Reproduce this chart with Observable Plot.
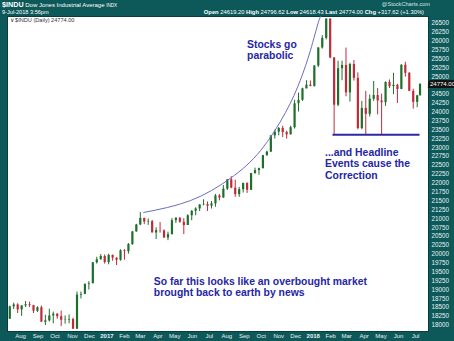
<!DOCTYPE html>
<html><head><meta charset="utf-8">
<script src="https://cdn.jsdelivr.net/npm/d3@7"></script>
<script src="https://cdn.jsdelivr.net/npm/@observablehq/plot@0.6"></script>
<style>
html,body{margin:0;padding:0;background:#0d5859;overflow:hidden}
#wrap{position:relative;width:454px;height:341px;font-family:'Liberation Sans',Arial,sans-serif;color:#fff}
#wrap svg{position:absolute;left:0;top:0}
.h{position:absolute;white-space:nowrap;line-height:1}
</style>
</head><body>
<div id="wrap">
  <div class="h" style="left:2px;top:1px;font-size:6px"><b style="font-size:7.2px">$INDU</b> Dow Jones Industrial Average <span style="font-size:4.6px">INDX</span></div>
  <div class="h" style="left:2px;top:9.5px;font-size:5.6px">9-Jul-2018 3:56pm</div>
  <div class="h" style="right:24px;top:1.5px;font-size:5.6px;color:#d8e6e6">@StockCharts.com</div>
  <div class="h" style="right:30px;top:9.5px;font-size:5.8px"><b>Open</b> 24619.20 <b>High</b> 24796.62 <b>Low</b> 24618.43 <b>Last</b> 24774.00 <b>Chg</b> +317.62 (+1.30%)</div>
</div>
<script>
// weekly bars (mid-week date), Dow Jones Industrial Average
const dates = ["2016-07-13","2016-07-20","2016-07-27","2016-08-03","2016-08-10","2016-08-17","2016-08-24","2016-08-31","2016-09-07","2016-09-14","2016-09-21","2016-09-28","2016-10-05","2016-10-12","2016-10-19","2016-10-26","2016-11-02","2016-11-09","2016-11-16","2016-11-23","2016-11-30","2016-12-07","2016-12-14","2016-12-21","2016-12-28",
"2017-01-04","2017-01-11","2017-01-18","2017-01-25","2017-02-01","2017-02-08","2017-02-15","2017-02-22","2017-03-01","2017-03-08","2017-03-15","2017-03-22","2017-03-29","2017-04-05","2017-04-12","2017-04-19","2017-04-26","2017-05-03","2017-05-10","2017-05-17","2017-05-24","2017-05-31","2017-06-07","2017-06-14","2017-06-21","2017-06-28","2017-07-05","2017-07-12","2017-07-19","2017-07-26","2017-08-02","2017-08-09","2017-08-16","2017-08-23","2017-08-30","2017-09-06","2017-09-13","2017-09-20","2017-09-27","2017-10-04","2017-10-11","2017-10-18","2017-10-25","2017-11-01","2017-11-08","2017-11-15","2017-11-22","2017-11-29","2017-12-06","2017-12-13","2017-12-20","2017-12-27",
"2018-01-03","2018-01-10","2018-01-17","2018-01-24","2018-01-31","2018-02-07","2018-02-14","2018-02-21","2018-02-28","2018-03-07","2018-03-14","2018-03-21","2018-03-28","2018-04-04","2018-04-11","2018-04-18","2018-04-25","2018-05-02","2018-05-09","2018-05-16","2018-05-23","2018-05-30","2018-06-06","2018-06-13","2018-06-20","2018-06-27","2018-07-04","2018-07-09"];
const closes = [18516,18570,18432,18543,18576,18552,18395,18492,18085,18123,18261,18308,18240,18138,18145,18161,17888,18847,18868,19152,19171,19757,19843,19934,19763,
19964,19886,19827,20094,20071,20269,20624,20822,21005,20903,20914,20596,20663,20656,20453,20548,20941,21007,20897,20805,21080,21206,21272,21384,21395,21350,21414,21638,21580,21830,22093,21858,21675,21814,21988,21798,22268,22350,22405,22774,22872,23329,23434,23539,23422,23358,23558,24232,24329,24652,24754,24719,
25296,25803,26072,26617,25521,24191,25219,25310,24539,25336,24947,23533,24103,23933,24360,24463,24311,24263,24831,24715,24753,24635,25317,25090,24581,24271,24456,24774];
const highs = [18537,18622,18605,18550,18668,18650,18560,18520,18540,18280,18450,18370,18330,18400,18260,18290,18200,18935,18935,19155,19225,19760,19912,19987,19980,
19999,19974,19900,20125,20125,20298,20640,20840,21169,21010,20990,20950,20740,20890,20680,20620,21000,21030,21030,21000,21110,21225,21305,21390,21530,21470,21480,21680,21680,21930,22100,22180,22080,21880,22000,22010,22270,22420,22420,22780,22900,23330,23490,23560,23600,23460,23600,24330,24530,24670,24880,24870,
25300,25810,26150,26617,26620,25530,25430,25430,25800,25370,25450,25100,24300,24580,24480,24860,24660,24500,24850,24900,25090,24780,25330,25400,25110,24640,24470,24796];
const lows = [18160,18440,18330,18250,18500,18500,18330,18360,18080,17990,18090,18040,18170,17960,18030,18040,17880,17880,18740,18860,18990,19160,19720,19830,19720,
19700,19800,19680,19800,19830,20000,20250,20620,20800,20830,20810,20600,20410,20590,20450,20380,20540,20860,20870,20550,20810,20940,21080,21200,21360,21200,21270,21320,21500,21570,21790,21840,21600,21600,21720,21710,21790,22250,22220,22400,22750,22860,23240,23330,23280,23240,23350,23520,24000,24300,24650,24710,
24700,25250,25770,26030,25500,23360,24150,24880,24430,24280,24870,23500,23500,23340,23860,24300,23920,23340,24160,24660,24490,24240,24630,24980,24580,24080,24120,24450];
const firstOpen = 18170;

const xTickLabels = ["Aug","Sep","Oct","Nov","Dec","2017","Feb","Mar","Apr","May","Jun","Jul","Aug","Sep","Oct","Nov","Dec","2018","Feb","Mar","Apr","May","Jun","Jul"];

// hand-drawn "parabolic" curve
const curveDates = ["2017-03-07","2017-05-29","2017-08-07","2017-09-30","2017-11-13","2017-12-09","2017-12-27","2018-01-10","2018-01-16"];
const curveValues = [21172,21509,22128,22917,23986,24887,25731,26519,26720];

// support line
const supportLevel = 23360;
const supportFrom = "2018-02-05", supportTo = "2018-07-09";

const notes = [
  {date:"2017-09-06", value:26032, text:"Stocks go\nparabolic"},
  {date:"2018-01-22", value:22993, text:"...and Headline\nEvents cause the\nCorrection"},
  {date:"2017-03-25", value:19370, text:"So far this looks like an overbought market\nbrought back to earth by news"}
];

const rows = dates.map((d,i)=>({date:new Date(d), open: i===0?firstOpen:closes[i-1], high:highs[i], low:lows[i], close:closes[i]}));
const green = "#1f6e2b", red = "#c22a3a";
const col = d => d.close >= d.open ? green : red;

const monthTicks = d3.utcMonth.range(new Date("2016-08-01"), new Date("2018-07-02"));
const labelOf = new Map(monthTicks.map((d,i)=>[+d, xTickLabels[i]]));
const yearTicks = monthTicks.filter(d => d.getUTCMonth() === 0);
const otherTicks = monthTicks.filter(d => d.getUTCMonth() !== 0);
const yTicks = d3.range(18000, 26501, 250).filter(v => v !== 24750);
const last = rows[rows.length-1];

const chart = Plot.plot({
  width: 454, height: 341,
  marginTop: 16, marginRight: 26, marginBottom: 10, marginLeft: 7,
  style: {background: "#0d5859", color: "#e8f2f2", fontFamily: "'Liberation Sans', Arial, sans-serif", overflow: "visible"},
  x: {type: "utc", domain: [new Date("2016-07-09"), new Date("2018-07-24")]},
  y: {domain: [17823, 26688]},
  marks: [
    Plot.frame({fill: "white", stroke: "#083c3e"}),
    Plot.axisY({anchor: "right", ticks: yTicks, tickSize: 0, tickPadding: 3, fontSize: 6.3, label: null, tickFormat: d => String(d)}),
    Plot.axisX({ticks: otherTicks, tickSize: 0, tickPadding: 2, fontSize: 6, label: null, tickFormat: d => labelOf.get(+d)}),
    Plot.axisX({ticks: yearTicks, tickSize: 0, tickPadding: 2, fontSize: 6, fontWeight: "bold", label: null, tickFormat: d => labelOf.get(+d)}),
    Plot.ruleX(rows, {x: "date", y1: "low", y2: "high", stroke: col, strokeWidth: 1}),
    Plot.ruleX(rows, {x: "date", y1: "open", y2: "close", stroke: col, strokeWidth: 2.2}),
    Plot.line(curveDates.map((d,i)=>({date:new Date(d), value:curveValues[i]})), {x: "date", y: "value", curve: "natural", stroke: "#6b6cc0", strokeWidth: 1, clip: true}),
    Plot.ruleY([{y: supportLevel, x1: new Date(supportFrom), x2: new Date(supportTo)}], {y: "y", x1: "x1", x2: "x2", stroke: "#2a2aa0", strokeWidth: 2}),
    Plot.text(notes, {x: d => new Date(d.date), y: "value", text: "text", textAnchor: "start", lineAnchor: "top", lineHeight: 1.1, fontSize: 10.4, fontWeight: "bold", fill: "#2626a4"}),
    Plot.text([last], {frameAnchor: "top-left", dx: 2, dy: 1.5, lineAnchor: "top", textAnchor: "start", fontSize: 5.6, fill: "#333", text: d => "\u2228 $INDU (Daily) " + d.close.toFixed(2)}),
    Plot.text([last], {frameAnchor: "right", y: "close", dx: 1.5, textAnchor: "start", fontSize: 6, fill: "white", stroke: "#111", strokeWidth: 4, strokeLinejoin: "miter", paintOrder: "stroke", text: d => d.close.toFixed(2)})
  ]
});
document.getElementById("wrap").prepend(chart);
</script>
</body></html>
